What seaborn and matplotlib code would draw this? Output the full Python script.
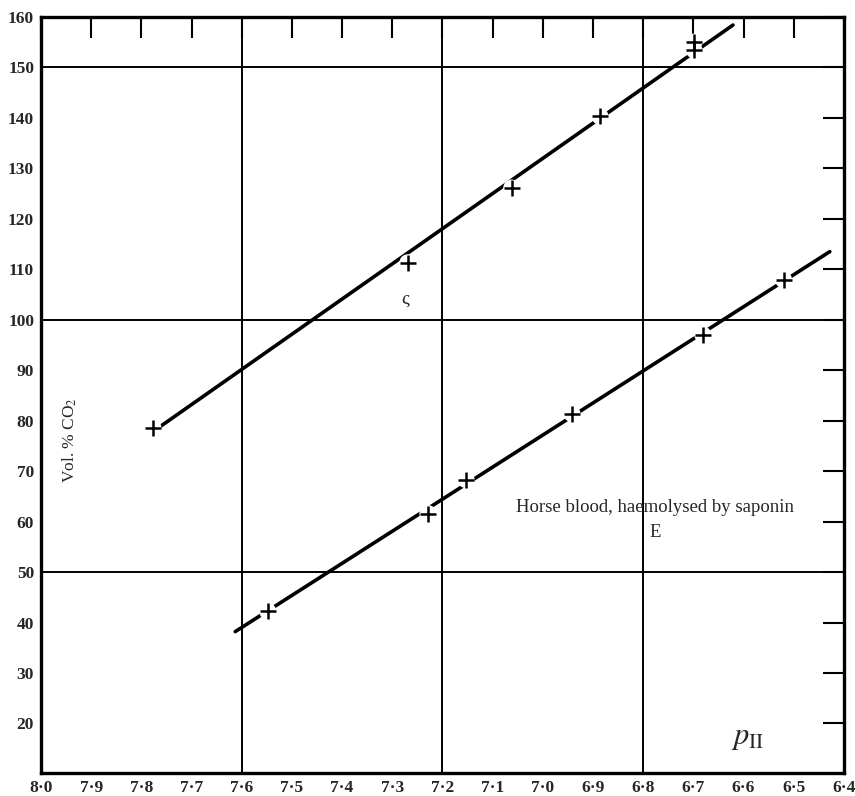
import matplotlib
matplotlib.use("Agg")
import matplotlib.pyplot as plt
import seaborn as sns
import pandas as pd

# ---- data ----
upper_ph = [7.777, 7.269, 7.062, 6.886, 6.699, 6.699]
upper_co2 = [78.6, 111.3, 126.1, 140.3, 155.0, 153.5]
lower_ph = [7.548, 7.229, 7.153, 6.942, 6.681, 6.520]
lower_co2 = [42.2, 61.6, 68.3, 81.4, 97.0, 107.9]

upper_line_ph = [7.763, 6.621]
upper_line_co2 = [78.8, 158.4]
lower_line_ph = [7.613, 6.428]
lower_line_co2 = [38.2, 113.5]

x_ticks = [8.0, 7.9, 7.8, 7.7, 7.6, 7.5, 7.4, 7.3, 7.2, 7.1, 7.0, 6.9, 6.8, 6.7, 6.6, 6.5, 6.4]
x_labels = ["8·0", "7·9", "7·8", "7·7", "7·6", "7·5", "7·4", "7·3", "7·2", "7·1",
            "7·0", "6·9", "6·8", "6·7", "6·6", "6·5", "6·4"]
y_ticks = [20, 30, 40, 50, 60, 70, 80, 90, 100, 110, 120, 130, 140, 150, 160]
grid_x = [7.6, 7.2, 6.8]
grid_y = [50, 100, 150]

title_text = "Horse blood, haemolysed by saponin"
sub_text = "E"

sns.set_theme(style="white")
plt.rcParams["font.family"] = ["Liberation Serif", "DejaVu Serif"]
plt.rcParams["mathtext.fontset"] = "stix"

fig = plt.figure(figsize=(8.55, 7.96), dpi=100)
ax = fig.add_axes([0.048, 0.029, 0.939, 0.9497])

for gx in grid_x:
    ax.axvline(gx, color="black", lw=1.4, zorder=1)
for gy in grid_y:
    ax.axhline(gy, color="black", lw=1.4, zorder=1)

lines_df = pd.concat([
    pd.DataFrame({"ph": upper_line_ph, "co2": upper_line_co2, "curve": "upper"}),
    pd.DataFrame({"ph": lower_line_ph, "co2": lower_line_co2, "curve": "lower"}),
])
pts_df = pd.concat([
    pd.DataFrame({"ph": upper_ph, "co2": upper_co2, "curve": "upper"}),
    pd.DataFrame({"ph": lower_ph, "co2": lower_co2, "curve": "lower"}),
])

sns.lineplot(data=lines_df, x="ph", y="co2", units="curve", estimator=None,
             color="black", lw=2.6, sort=False, ax=ax, zorder=2)
# white halos to break the line around each point
sns.scatterplot(data=pts_df, x="ph", y="co2", marker="o", s=150, color="white",
                edgecolor="none", ax=ax, zorder=3)
sns.scatterplot(data=pts_df, x="ph", y="co2", marker="+", s=120, color="black",
                linewidth=1.8, ax=ax, zorder=4)

ax.set_xlim(8.0, 6.4)
ax.set_ylim(10.2, 160)
ax.set_xticks(x_ticks)
ax.set_xticklabels(x_labels)
ax.set_yticks(y_ticks)
ax.set_xlabel("")
ax.set_ylabel("")

ax.tick_params(axis="both", direction="in", length=15, width=1.5, color="black",
               top=True, right=True, labelsize=12.5, pad=5)
for lab in ax.get_xticklabels() + ax.get_yticklabels():
    lab.set_fontweight("bold")
for sp in ax.spines.values():
    sp.set_visible(True)
    sp.set_color("black")
    sp.set_linewidth(2.4)

ax.text(7.942, 76.2, "Vol. % CO$_2$", rotation=90, ha="center", va="center",
        fontsize=12.5)
ax.text(6.777, 62.8, title_text, ha="center", va="center", fontsize=13.5)
ax.text(6.777, 57.8, sub_text, ha="center", va="center", fontsize=13.5)
ax.text(6.591, 17.3, r"$p_{\mathrm{II}}$", ha="center", va="center", fontsize=22)
ax.text(7.275, 104.0, "ς", ha="center", va="center", fontsize=14)

fig.savefig("out.png", dpi=100)
